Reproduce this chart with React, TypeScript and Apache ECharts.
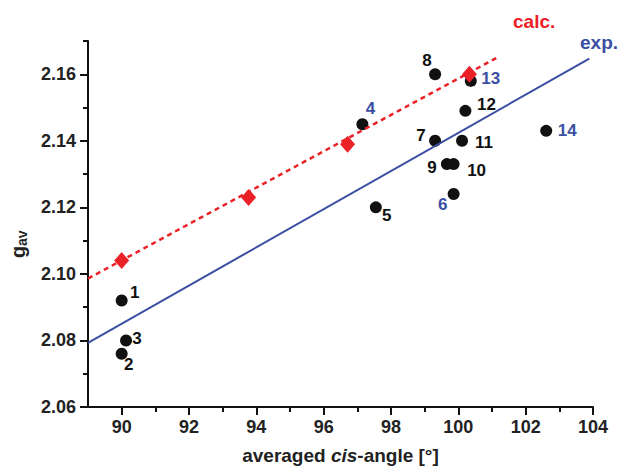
import React, { useEffect, useRef } from "react";
import * as echarts from "echarts";

// experimental complexes (black dots)
const expLabels = ["1", "2", "3", "4", "5", "6", "7", "8", "9", "10", "11", "12", "13", "14"];
const expX = [90.0, 90.0, 90.13, 97.15, 97.55, 99.86, 99.31, 99.31, 99.66, 99.86, 100.11, 100.21, 100.37, 102.61];
const expY = [2.092, 2.076, 2.08, 2.145, 2.12, 2.124, 2.14, 2.16, 2.133, 2.133, 2.14, 2.149, 2.158, 2.143];
const blueLabelIds = ["4", "6", "13", "14"];

// calculated values (red diamonds)
const calcX = [90.0, 93.77, 96.71, 100.33];
const calcY = [2.104, 2.123, 2.139, 2.16];

// fitted lines (end points)
const expFitX = [89, 103.89];
const expFitY = [2.0793, 2.1647];
const calcFitX = [89, 101.15];
const calcFitY = [2.0986, 2.165];

// axes
const xMin = 89;
const xMax = 104;
const yMin = 2.06;
const yMax = 2.17;
const xTicks = [90, 92, 94, 96, 98, 100, 102, 104];
const xMinorTicks = [91, 93, 95, 97, 99, 101, 103];
const yTicks = [2.06, 2.08, 2.1, 2.12, 2.14, 2.16];
const yMinorTicks = [2.07, 2.09, 2.11, 2.13, 2.15, 2.17];

// label placement (pixels, relative to the dot centre)
const labelOffsets: Record<string, [number, number]> = {
  "1": [13, -8],
  "2": [7, 11],
  "3": [11, -2],
  "4": [8, -16],
  "5": [11, 8],
  "6": [-11, 10],
  "7": [-14, -5],
  "8": [-8, -14],
  "9": [-15, 3],
  "10": [23, 6],
  "11": [22, 2],
  "12": [21, -6],
  "13": [20, -2],
  "14": [21, 0],
};

const RED = "#ea2228";
const BLUE = "#3b4fa2";
const BLACK = "#111111";
const FONT = "'Liberation Sans', Arial, Helvetica, sans-serif";

export default function App() {
  const ref = useRef<HTMLDivElement>(null);

  useEffect(() => {
    if (!ref.current) return;
    const chart = echarts.init(ref.current, undefined, { renderer: "svg" });

    const expData = expX.map((x, i) => {
      const id = expLabels[i];
      return {
        value: [x, expY[i]],
        label: {
          show: true,
          formatter: id,
          position: "inside",
          offset: labelOffsets[id],
          color: blueLabelIds.includes(id) ? BLUE : BLACK,
          fontSize: 17,
          fontWeight: "bold",
          fontFamily: FONT,
          align: "center",
          verticalAlign: "middle",
        },
      };
    });

    const majorAxisCommon = {
      axisLine: { show: true, lineStyle: { color: BLACK, width: 2 } },
      splitLine: { show: false },
    };

    chart.setOption({
      animation: false,
      backgroundColor: "#ffffff",
      grid: { left: 88, right: 27, top: 41, bottom: 59, containLabel: false },
      xAxis: [
        {
          type: "value",
          min: xMin,
          max: xMax,
          position: "bottom",
          ...majorAxisCommon,
          axisTick: { show: true, customValues: xTicks, length: 8, inside: false, lineStyle: { color: BLACK, width: 2 } },
          axisLabel: {
            show: true,
            customValues: xTicks,
            margin: 11,
            color: "#222",
            fontSize: 18,
            fontWeight: "bold",
            fontFamily: FONT,
          },
          name: "{a|averaged }{i|cis}{a|-angle [°]}",
          nameLocation: "middle",
          nameGap: 39,
          nameTextStyle: {
            rich: {
              a: { fontSize: 19, fontWeight: "bold", fontFamily: FONT, color: "#222" },
              i: { fontSize: 19, fontWeight: "bold", fontStyle: "italic", fontFamily: FONT, color: "#222" },
            },
          },
        },
        {
          type: "value",
          min: xMin,
          max: xMax,
          position: "bottom",
          axisLine: { show: false },
          splitLine: { show: false },
          axisLabel: { show: false },
          axisTick: { show: true, customValues: xMinorTicks, length: 5, lineStyle: { color: BLACK, width: 2 } },
        },
      ],
      yAxis: [
        {
          type: "value",
          min: yMin,
          max: yMax,
          position: "left",
          ...majorAxisCommon,
          axisTick: { show: true, customValues: yTicks, length: 8, lineStyle: { color: BLACK, width: 2 } },
          axisLabel: {
            show: true,
            customValues: yTicks,
            margin: 12,
            color: "#222",
            fontSize: 18,
            fontWeight: "bold",
            fontFamily: FONT,
            formatter: (v: number) => v.toFixed(2),
          },
        },
        {
          type: "value",
          min: yMin,
          max: yMax,
          position: "left",
          axisLine: { show: false },
          splitLine: { show: false },
          axisLabel: { show: false },
          axisTick: { show: true, customValues: yMinorTicks, length: 5, lineStyle: { color: BLACK, width: 2 } },
        },
      ],
      series: [
        {
          type: "scatter",
          name: "exp. data",
          xAxisIndex: 0,
          yAxisIndex: 0,
          symbol: "circle",
          symbolSize: 12,
          itemStyle: { color: BLACK, opacity: 1 },
          data: expData,
          z: 2,
        },
        {
          type: "line",
          name: "exp.",
          xAxisIndex: 0,
          yAxisIndex: 0,
          showSymbol: false,
          symbol: "none",
          lineStyle: { color: BLUE, width: 2 },
          data: expFitX.map((x, i) => [x, expFitY[i]]),
          z: 3,
        },
        {
          type: "line",
          name: "calc.",
          xAxisIndex: 0,
          yAxisIndex: 0,
          showSymbol: false,
          symbol: "none",
          lineStyle: { color: RED, width: 2.5, type: [5, 4] },
          data: calcFitX.map((x, i) => [x, calcFitY[i]]),
          z: 3,
        },
        {
          type: "scatter",
          name: "calc. data",
          xAxisIndex: 0,
          yAxisIndex: 0,
          symbol: "diamond",
          symbolSize: [15, 17],
          itemStyle: { color: RED, opacity: 1 },
          data: calcX.map((x, i) => [x, calcY[i]]),
          z: 4,
        },
      ],
      graphic: [
        {
          type: "text",
          left: 513,
          top: 12,
          style: { text: "calc.", fill: RED, font: `bold 19px ${FONT}` },
        },
        {
          type: "text",
          left: 580,
          top: 33,
          style: { text: "exp.", fill: BLUE, font: `bold 19px ${FONT}` },
        },
        {
          type: "group",
          x: 18,
          y: 244,
          rotation: Math.PI / 2,
          children: [
            {
              type: "text",
              x: -14,
              y: 0,
              style: {
                text: "g",
                fill: "#222",
                font: `bold 20px ${FONT}`,
                textAlign: "left",
                textVerticalAlign: "middle",
                verticalAlign: "middle",
              },
            },
            {
              type: "text",
              x: -2,
              y: 4,
              style: {
                text: "av",
                fill: "#222",
                font: `bold 14px ${FONT}`,
                textAlign: "left",
                textVerticalAlign: "middle",
                verticalAlign: "middle",
              },
            },
          ],
        },
      ],
    });

    return () => chart.dispose();
  }, []);

  return (
    <div
      ref={ref}
      style={{ position: "fixed", left: 0, top: 0, width: 620, height: 470, background: "#fff" }}
    />
  );
}
